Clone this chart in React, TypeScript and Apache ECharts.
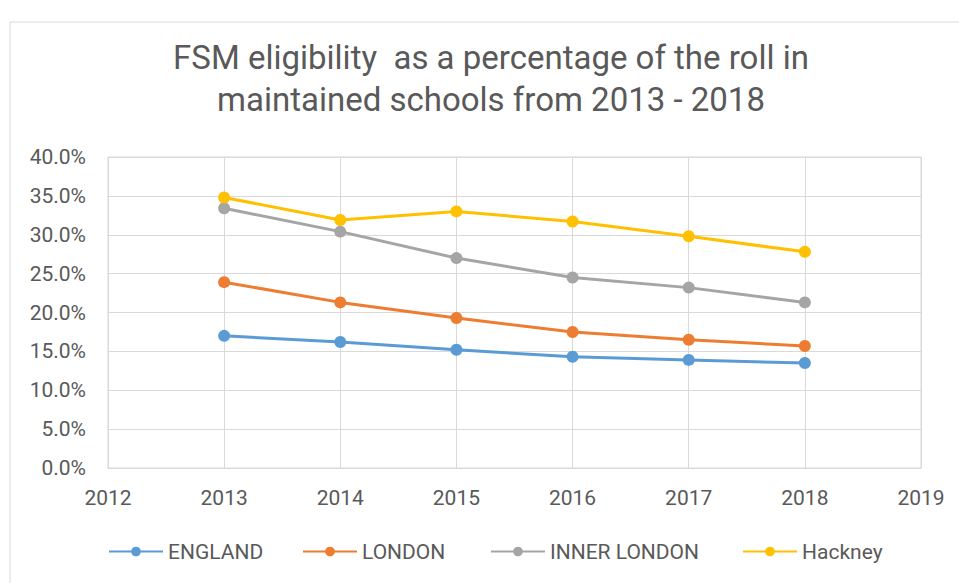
import React, { useEffect, useRef } from "react";
import * as echarts from "echarts";

const years = [2013, 2014, 2015, 2016, 2017, 2018];
const england = [17.0, 16.2, 15.2, 14.3, 13.9, 13.5];
const london = [23.9, 21.3, 19.3, 17.5, 16.5, 15.7];
const innerLondon = [33.4, 30.4, 27.0, 24.5, 23.2, 21.3];
const hackney = [34.8, 31.9, 33.0, 31.7, 29.8, 27.8];

const seriesNames = ["ENGLAND", "LONDON", "INNER LONDON", "Hackney"];
const seriesColors = ["#5B9BD5", "#ED7D31", "#A5A5A5", "#FFC000"];
const seriesValues = [england, london, innerLondon, hackney];
const titleLines = ["FSM eligibility  as a percentage of the roll in", "maintained schools from 2013 - 2018"];
const legendLefts = [108, 302, 490, 742];

const FONT = "Roboto, 'Noto Sans', sans-serif";
const TXT = "#595959";

export default function App() {
  const ref = useRef<HTMLDivElement>(null);
  useEffect(() => {
    document.body.style.margin = "0";
    const chart = echarts.init(ref.current!, undefined, { renderer: "svg" });
    chart.setOption({
      animation: false,
      backgroundColor: "#ffffff",
      textStyle: { fontFamily: FONT },
      graphic: [
        {
          type: "rect",
          shape: { x: 10, y: 22, width: 1000, height: 700 },
          style: { fill: "none", stroke: "#d9d9d9", lineWidth: 1 },
          silent: true,
        },
        {
          type: "text",
          x: 491,
          y: 36,
          style: {
            text: titleLines.join("\n"),
            fill: TXT,
            fontFamily: FONT,
            fontSize: 33,
            lineHeight: 42,
            textAlign: "center",
          },
        },
      ],
      grid: { left: 108, top: 157, width: 813, height: 311, show: true, borderColor: "#d9d9d9", borderWidth: 1 },
      xAxis: {
        type: "value",
        min: 2012,
        max: 2019,
        interval: 1,
        axisLine: { show: true, lineStyle: { color: "#d9d9d9" } },
        axisTick: { show: false },
        splitLine: { show: true, lineStyle: { color: "#d9d9d9", width: 1 } },
        axisLabel: { color: TXT, fontSize: 21, fontFamily: FONT, margin: 19, formatter: (v: number) => String(v) },
      },
      yAxis: {
        type: "value",
        min: 0,
        max: 40,
        interval: 5,
        axisLine: { show: false },
        axisTick: { show: false },
        splitLine: { show: true, lineStyle: { color: "#d9d9d9", width: 1 } },
        axisLabel: { color: TXT, fontSize: 21, fontFamily: FONT, margin: 22, formatter: (v: number) => v.toFixed(1) + "%" },
      },
      legend: seriesNames.map((n, i) => ({
        data: [n],
        left: legendLefts[i],
        top: 541,
        padding: 0,
        itemWidth: 54,
        itemHeight: 12,
        textStyle: { color: TXT, fontSize: 21, fontFamily: FONT },
        selectedMode: false,
      })),
      series: seriesNames.map((n, i) => ({
        name: n,
        type: "line",
        data: years.map((y, j) => [y, seriesValues[i][j]]),
        color: seriesColors[i],
        symbol: "circle",
        symbolSize: 12,
        lineStyle: { width: 3, color: seriesColors[i] },
        itemStyle: { color: seriesColors[i] },
      })),
    });
    return () => chart.dispose();
  }, []);
  return <div ref={ref} style={{ width: 959, height: 583 }} />;
}
